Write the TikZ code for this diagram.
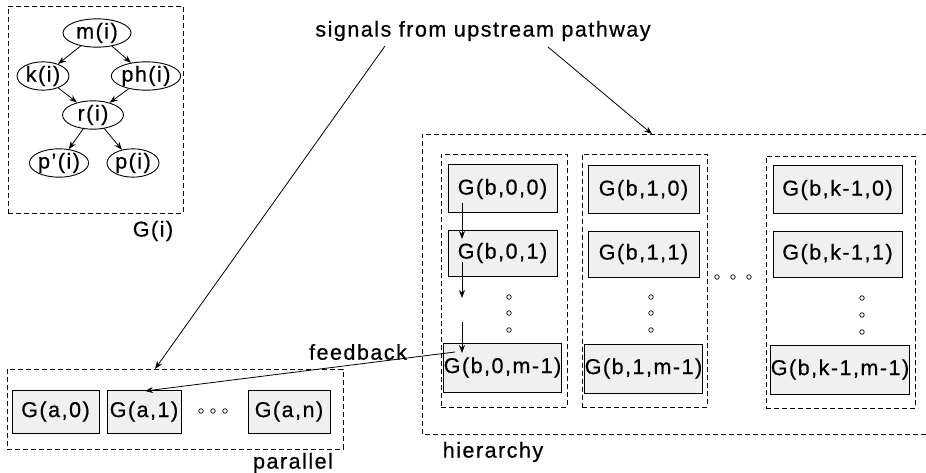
\documentclass[tikz,border=0pt]{standalone}
\usepackage{fontspec}
\setmainfont{Liberation Sans}[LetterSpace=7,FakeBold=0.6]
\usetikzlibrary{shapes.geometric,arrows.meta}
\begin{document}
\begin{tikzpicture}[x=1pt,y=-1pt,
  every node/.style={font=\fontsize{21.5}{25}\selectfont},
  gbox/.style={draw,line width=1pt,fill=gray!12,inner sep=0pt},
  dbox/.style={draw,dash pattern=on 5pt off 3pt,line width=0.9pt,inner sep=0pt},
  ell/.style={draw,ellipse,line width=0.9pt,inner sep=0pt,minimum height=22pt},
  arr/.style={-{Stealth[length=8pt,width=6pt]},line width=0.8pt},
  dot/.style={draw,circle,inner sep=0pt,minimum size=4.5pt,line width=0.7pt},
  lbl/.style={inner sep=0pt}]
\useasboundingbox (0,0) rectangle (926,473);
% G(i) box
\node[dbox,minimum width=175pt,minimum height=207pt] (gi) at (95.5,109.5) {};
\node[lbl] (gil) at (153,231) {G(i)};
\node[ell,minimum width=68pt] (m) at (97,33) {m(i)};
\node[ell,minimum width=52pt] (k) at (43,76) {k(i)};
\node[ell,minimum width=60pt] (ph) at (146,76) {ph(i)};
\node[ell,minimum width=61pt,minimum height=23pt] (r) at (93,115) {r(i)};
\node[ell,minimum width=54pt] (pp) at (59,163) {p'(i)};
\node[ell,minimum width=52pt] (p) at (133,163) {p(i)};
\draw[arr] (m) -- (k);
\draw[arr] (m) -- (ph);
\draw[arr] (k) -- (r);
\draw[arr] (ph) -- (r);
\draw[arr] (r) -- (pp);
\draw[arr] (r) -- (p);
% signals
\node[lbl] (sig) at (483,31) {signals from upstream pathway};
\coordinate (sigl) at (385,46);
\coordinate (sigr) at (548,47);
% parallel
\node[dbox,minimum width=336pt,minimum height=80pt] (par) at (175,409) {};
\node[lbl] (parl) at (293,463) {parallel};
\node[gbox,minimum width=87pt,minimum height=43pt] (a0) at (55.5,411.5) {G(a,0)};
\node[gbox,minimum width=74pt,minimum height=43pt] (a1) at (144,411.5) {G(a,1)};
\node[gbox,minimum width=82pt,minimum height=43pt] (an) at (289,411.5) {G(a,n)};
\node[dot] (pd1) at (201,411) {};
\node[dot] (pd2) at (213,411) {};
\node[dot] (pd3) at (225,411) {};
\coordinate (parin) at (155,369);
\draw[arr] (sigl) -- (parin);
% hierarchy
\draw[dash pattern=on 5pt off 3pt,line width=0.9pt] (935,134) -- (422,134) -- (422,434) -- (935,434);
\coordinate (hier) at (652,134);
\node[lbl] (hierl) at (493,452) {hierarchy};
\draw[arr] (sigr) -- (hier);
\node[dbox,minimum width=126pt,minimum height=253pt] (c0) at (504,280.5) {};
\node[dbox,minimum width=125pt,minimum height=253pt] (c1) at (644.5,280.5) {};
\node[dbox,minimum width=149pt,minimum height=252pt] (ck) at (840.5,282) {};
% column 0
\node[gbox,minimum width=109pt,minimum height=48pt] (b00) at (502.5,189) {G(b,0,0)};
\node[gbox,minimum width=109pt,minimum height=46pt] (b01) at (502.5,253) {G(b,0,1)};
\node[gbox,minimum width=109pt,minimum height=49pt] (b0m) at (502.5,367.5) {G(b,0,m-1)};
% column 1
\node[gbox,minimum width=111pt,minimum height=48pt] (b10) at (643.5,190) {G(b,1,0)};
\node[gbox,minimum width=111pt,minimum height=46pt] (b11) at (643.5,254) {G(b,1,1)};
\node[gbox,minimum width=111pt,minimum height=49pt] (b1m) at (643.5,368.5) {G(b,1,m-1)};
% column k-1
\node[gbox,minimum width=129pt,minimum height=48pt] (bk0) at (837.5,190) {G(b,k-1,0)};
\node[gbox,minimum width=129pt,minimum height=46pt] (bk1) at (837.5,254) {G(b,k-1,1)};
\node[gbox,minimum width=134pt,minimum height=49pt] (bkm) at (840,369.5) {G(b,k-1,m-1)};
% vertical dots
\node[dot] (d01) at (509,297) {};
\node[dot] (d02) at (509,313) {};
\node[dot] (d03) at (509,330) {};
\node[dot] (d11) at (651,297) {};
\node[dot] (d12) at (651,313) {};
\node[dot] (d13) at (651,330) {};
\node[dot] (dk1) at (862,298) {};
\node[dot] (dk2) at (862,315) {};
\node[dot] (dk3) at (862,332) {};
\node[dot] (h1) at (717,277) {};
\node[dot] (h2) at (733,277) {};
\node[dot] (h3) at (749,277) {};
% vertical arrows in column 0
\coordinate (v1s) at (462,203);
\coordinate (v1e) at (462,239);
\coordinate (v2s) at (462,262);
\coordinate (v2e) at (462,298);
\coordinate (v3s) at (462,322);
\coordinate (v3e) at (462,353);
\draw[arr] (v1s) -- (v1e);
\draw[arr] (v2s) -- (v2e);
\draw[arr] (v3s) -- (v3e);
% feedback
\node[lbl] (fb) at (358,352) {feedback};
\coordinate (fbs) at (455,352);
\coordinate (fbe) at (145,391);
\draw[arr] (fbs) -- (fbe);
\end{tikzpicture}
\end{document}
